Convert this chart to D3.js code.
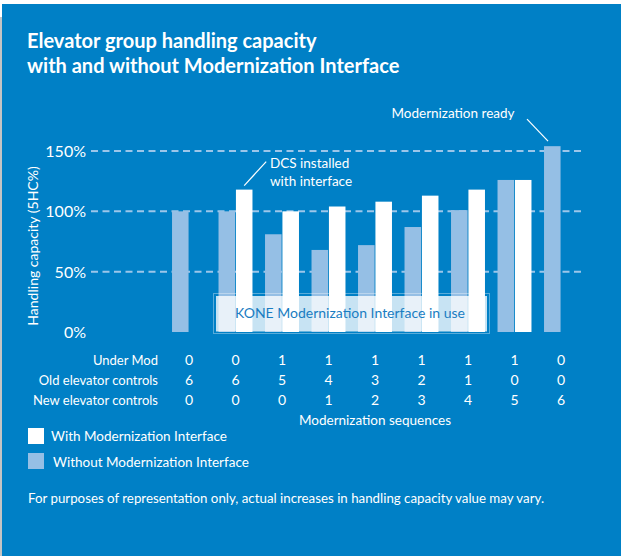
<!DOCTYPE html>
<html>
<head>
<meta charset="utf-8">
<script src="https://cdn.jsdelivr.net/npm/d3@7"></script>
<style>
  body { margin: 0; background: #fff; }
  svg { display: block; font-family: Lato, "Open Sans", sans-serif; }
</style>
</head>
<body>
<div class="painter"></div>
<script>
// data
const sequences = ['s1', 's2', 's3', 's4', 's5', 's6', 's7', 's8', 's9']
const withoutMI = [100, 100, 81, 68, 72, 87, 101, 126, 154]
const withMI = [null, 118, 100, 104, 108, 113, 118, 126, null]
const underMod = [0, 0, 1, 1, 1, 1, 1, 1, 0]
const oldControls = [6, 6, 5, 4, 3, 2, 1, 0, 0]
const newControls = [0, 0, 0, 1, 2, 3, 4, 5, 6]
const tableRows = ['Under Mod', 'Old elevator controls', 'New elevator controls']
const yTicks = [0, 50, 100, 150]

const W = 621, H = 556
const BLUE = '#0080c6'
const LIGHT = '#95bfe5'

let svg = d3.select('.painter')
    .append('svg')
    .attr('width', W)
    .attr('height', H)

// panel
svg.append('rect').attr('x', 0).attr('y', 17).attr('width', 2).attr('height', H - 17).attr('fill', '#c4c4c4')
svg.append('rect').attr('x', 2).attr('y', 4).attr('width', W - 2).attr('height', H - 4).attr('fill', BLUE)

// title
svg.append('text')
    .attr('x', 27).attr('y', 48)
    .attr('fill', '#fff').attr('font-size', 20).attr('font-weight', 'bold')
    .text('Elevator group handling capacity')
svg.append('text')
    .attr('x', 27).attr('y', 73)
    .attr('fill', '#fff').attr('font-size', 20).attr('font-weight', 'bold')
    .text('with and without Modernization Interface')

let x = d3.scaleBand()
    .domain(sequences)
    .range([165.75, 584.25])
    .paddingInner(0.27)
    .paddingOuter(0.135)

let xs = d3.scaleBand()
    .domain(['without', 'with'])
    .range([0, x.bandwidth()])
    .paddingInner(0.05)

let y = d3.scaleLinear()
    .domain([0, 150])
    .range([332, 151])

// gridlines
svg.append('g')
    .selectAll('line')
    .data(yTicks.filter(d => d > 0))
    .join('line')
    .attr('x1', 91).attr('x2', 585)
    .attr('y1', d => y(d)).attr('y2', d => y(d))
    .attr('stroke', '#9cc6ea')
    .attr('stroke-width', 2)
    .attr('stroke-dasharray', '7,4.5')

// y tick labels
svg.append('g')
    .selectAll('text')
    .data(yTicks)
    .join('text')
    .attr('x', 86)
    .attr('y', d => y(d) + 6)
    .attr('text-anchor', 'end')
    .attr('fill', '#fff')
    .attr('font-size', 16)
    .text(d => d + '%')

svg.append('text')
    .attr('transform', 'translate(38,246) rotate(-90)')
    .attr('text-anchor', 'middle')
    .attr('fill', '#fff')
    .attr('font-size', 14)
    .text('Handling capacity (5HC%)')

// bars
let groups = svg.append('g')
    .selectAll('g')
    .data(sequences)
    .join('g')
    .attr('transform', d => `translate(${x(d)},0)`)

groups.append('rect')
    .attr('x', xs('without'))
    .attr('width', xs.bandwidth())
    .attr('y', (d, i) => y(withoutMI[i]))
    .attr('height', (d, i) => y(0) - y(withoutMI[i]))
    .attr('fill', LIGHT)

groups.filter((d, i) => withMI[i] != null)
    .append('rect')
    .attr('x', xs('with'))
    .attr('width', xs.bandwidth())
    .attr('y', d => y(withMI[sequences.indexOf(d)]))
    .attr('height', d => y(0) - y(withMI[sequences.indexOf(d)]))
    .attr('fill', '#fff')

// "in use" overlay box
svg.append('rect')
    .attr('x', 213.5).attr('y', 293.5).attr('width', 276).attr('height', 40)
    .attr('fill', 'none').attr('stroke', 'rgba(255,255,255,0.35)').attr('stroke-width', 1)
svg.append('rect')
    .attr('x', 216).attr('y', 296).attr('width', 271).attr('height', 35.5)
    .attr('fill', 'rgba(255,255,255,0.78)')
svg.append('text')
    .attr('x', 350).attr('y', 318)
    .attr('text-anchor', 'middle')
    .attr('fill', '#1a7dc2')
    .attr('font-size', 14)
    .text('KONE Modernization Interface in use')

// annotations
let dcsX = x('s2') + xs('with') + xs.bandwidth() / 2
let dcsY = y(withMI[1]) - 4
svg.append('line')
    .attr('x1', dcsX).attr('y1', dcsY).attr('x2', dcsX + 22).attr('y2', dcsY - 24)
    .attr('stroke', '#fff').attr('stroke-width', 1.2)
svg.append('text')
    .attr('x', 270).attr('y', 168)
    .attr('fill', '#fff').attr('font-size', 13.5)
    .text('DCS installed')
svg.append('text')
    .attr('x', 270).attr('y', 186)
    .attr('fill', '#fff').attr('font-size', 13.5)
    .text('with interface')

let rdX = x('s9') + 4
let rdY = y(withoutMI[8]) - 5
svg.append('line')
    .attr('x1', rdX).attr('y1', rdY).attr('x2', rdX - 21).attr('y2', rdY - 22)
    .attr('stroke', '#fff').attr('stroke-width', 1.2)
svg.append('text')
    .attr('x', 453).attr('y', 118)
    .attr('text-anchor', 'middle')
    .attr('fill', '#fff').attr('font-size', 13.5)
    .text('Modernization ready')

// table under the chart
let tableData = [underMod, oldControls, newControls]
tableRows.forEach((label, r) => {
    let ty = 365 + r * 20
    svg.append('text')
        .attr('x', 158).attr('y', ty)
        .attr('text-anchor', 'end')
        .attr('fill', '#fff').attr('font-size', 13)
        .text(label)
    svg.append('g')
        .selectAll('text')
        .data(tableData[r])
        .join('text')
        .attr('x', (d, i) => x(sequences[i]) + x.bandwidth() / 2)
        .attr('y', ty)
        .attr('text-anchor', 'middle')
        .attr('fill', '#fff').attr('font-size', 14)
        .text(d => d)
})
svg.append('text')
    .attr('x', 375).attr('y', 425)
    .attr('text-anchor', 'middle')
    .attr('fill', '#fff').attr('font-size', 13.5)
    .text('Modernization sequences')

// legend
svg.append('rect').attr('x', 28).attr('y', 428).attr('width', 16).attr('height', 16).attr('fill', '#fff')
svg.append('text').attr('x', 51).attr('y', 441).attr('fill', '#fff').attr('font-size', 13.5)
    .text('With Modernization Interface')
svg.append('rect').attr('x', 28).attr('y', 453).attr('width', 16).attr('height', 16).attr('fill', LIGHT)
svg.append('text').attr('x', 53).attr('y', 467).attr('fill', '#fff').attr('font-size', 13.5)
    .text('Without Modernization Interface')

svg.append('text')
    .attr('x', 28).attr('y', 503)
    .attr('fill', '#fff').attr('font-size', 13.3)
    .text('For purposes of representation only, actual increases in handling capacity value may vary.')
</script>
</body>
</html>
